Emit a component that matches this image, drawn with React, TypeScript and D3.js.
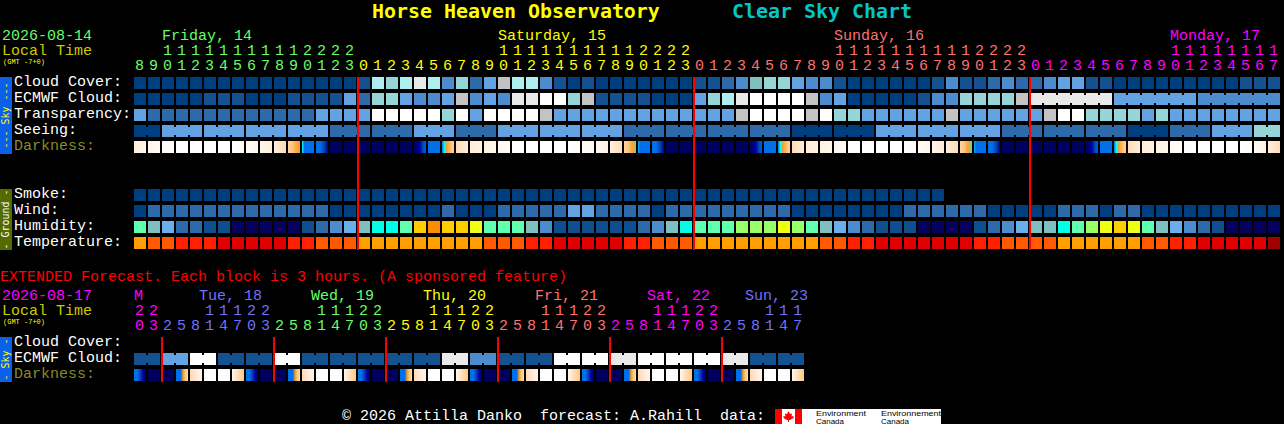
import React, { useRef, useEffect } from "react";
import * as d3 from "d3";

// hours shown above each column
const hours = [
	8, 9, 10, 11, 12, 13, 14, 15, 16, 17, 18, 19, 20, 21, 22, 23,
	0, 1, 2, 3, 4, 5, 6, 7, 8, 9, 10, 11, 12, 13, 14, 15, 16, 17, 18, 19, 20, 21, 22, 23,
	0, 1, 2, 3, 4, 5, 6, 7, 8, 9, 10, 11, 12, 13, 14, 15, 16, 17, 18, 19, 20, 21, 22, 23,
	0, 1, 2, 3, 4, 5, 6, 7, 8, 9, 10, 11, 12, 13, 14, 15, 16, 17,
];
const extHours = [
	20, 23, 2, 5, 8, 11, 14, 17, 20, 23, 2, 5, 8, 11, 14, 17, 20, 23, 2, 5, 8, 11, 14, 17,
	20, 23, 2, 5, 8, 11, 14, 17, 20, 23, 2, 5, 8, 11, 14, 17, 20, 23, 2, 5, 8, 11, 14, 17,
];

const dayLabels = ["Friday, 14", "Saturday, 15", "Sunday, 16", "Monday, 17"];
const dayLabelCols = [2, 26, 50, 74];
const dayFirstCols = [0, 16, 40, 64];
const dayColors = ["#66ff66", "#ffff00", "#ff7070", "#ff00ff"];

const extDayLabels = ["M", "Tue, 18", "Wed, 19", "Thu, 20", "Fri, 21", "Sat, 22", "Sun, 23"];
const extDayLabelCols = [0, 4.64, 12.64, 20.64, 28.64, 36.64, 43.64];
const extDayFirstCols = [0, 2, 10, 18, 26, 34, 42];
const extDayColors = ["#ff00ff", "#7070ff", "#66ff66", "#ffff00", "#ff7070", "#ff00ff", "#7070ff"];

// sky rows, 0 = best (dark blue) .. 10 = worst (white)
const cloudCover = [
	0, 0, 0, 0, 0, 0, 0, 0, 0, 0, 0, 0, 0, 0, 0, 0, 1, 7, 6, 7,
	9, 7, 3, 6, 2, 4, 8, 7, 7, 3, 1, 0, 1, 0, 0, 0, 0, 0, 0, 0,
	1, 1, 2, 3, 5, 6, 6, 4, 3, 3, 1, 0, 0, 0, 0, 0, 0, 1, 3, 1,
	1, 2, 3, 2, 2, 3, 4, 4, 1, 1, 0, 0, 0, 0, 0, 0, 0, 0, 0, 1, 1, 1,
];
const ecmwfCloud = [
	0, 0, 0, 0, 0, 1, 1, 1, 0, 0, 0, 1, 1, 1, 1, 4, 2, 6, 6, 4,
	3, 3, 4, 8, 3, 4, 3, 9, 9, 10, 10, 6, 8, 1, 1, 1, 1, 0, 0, 0,
	4, 6, 7, 9, 10, 10, 10, 10, 8, 3, 4, 0, 0, 0, 0, 0, 1, 3, 3, 6,
	6, 6, 6, 8, 9, 9, 9, 9, 9, 9, 4, 4, 4, 4, 4, 4, 3, 3, 3, 3, 3, 3,
];
const ecmwfSpans = [
	1, 1, 1, 1, 1, 1, 1, 1, 1, 1, 1, 1, 1, 1, 1, 1, 1, 1, 1, 1, 1, 1, 1, 1, 1, 1, 1, 1, 1, 1, 1, 1,
	1, 1, 1, 1, 1, 1, 1, 1, 1, 1, 1, 1, 1, 1, 1, 1, 1, 1, 1, 1, 1, 1, 1, 1, 1, 1, 1, 1, 1, 1, 1, 1,
	6, 6, 6,
];
const transparency = [
	4, 2, 2, 2, 2, 2, 2, 2, 2, 2, 2, 2, 2, 4, 4, 4, 4, 10, 10, 10,
	10, 10, 6, 10, 4, 10, 10, 10, 10, 8, 4, 4, 4, 4, 4, 4, 4, 4, 4, 4,
	4, 4, 4, 8, 10, 10, 10, 10, 8, 10, 6, 6, 4, 4, 4, 4, 4, 4, 8, 4,
	4, 4, 4, 4, 4, 8, 10, 10, 6, 6, 6, 6, 4, 6, 4, 4, 4, 4, 4, 4, 4, 4,
];
const seeing = [
	0, 0, 4, 4, 4, 4, 4, 4, 4, 4, 4, 4, 4, 4, 2, 2, 2, 2, 2, 2,
	4, 4, 4, 2, 2, 2, 4, 4, 4, 4, 4, 4, 4, 4, 4, 2, 2, 2, 2, 2,
	2, 2, 2, 2, 2, 2, 2, 0, 0, 0, 0, 0, 0, 4, 4, 4, 4, 4, 4, 4,
	4, 4, 2, 2, 2, 2, 2, 2, 2, 2, 2, 0, 0, 0, 2, 2, 2, 4, 4, 4, 6, 6,
];
const seeingSpans = [2, 3, 3, 3, 3, 3, 3, 3, 3, 3, 3, 3, 3, 3, 3, 3, 3, 3, 3, 3, 3, 3, 3, 3, 3, 3, 3, 2];

// darkness samples, left to right inside each block, 0 = daylight .. 10 = full night
const darkness = [
	[2, 1], [1.2, 0.6], [0.6, 0.1], [0], [0], [0], [0], [0, 0.5], [0.5, 1], [1, 1.8], [2, 3],
	[3.4, 4, 4.6, 5], [6, 7, 7, 7, 7, 7], [7, 7, 8, 9.5], [10], [10], [10], [10], [10], [10],
	[10, 9.5, 9, 8, 7.5], [7], [7, 6, 5, 4.5, 4, 3.5], [3, 2], [2, 1.4], [1.4, 1], [1, 0.3],
	[0], [0], [0], [0], [0, 0.3], [0.3, 0.7], [0.8, 1.4], [1.8, 3],
	[3.4, 4, 4.8, 5.4], [6.6, 7, 7, 7, 7, 7], [7, 7, 8, 9.5], [10], [10], [10], [10], [10], [10],
	[10, 9.5, 9, 8, 7.5], [7], [7, 6, 5, 4.5, 4, 3.5], [3, 2], [2, 1.4], [1.4, 1], [1, 0.3],
	[0], [0], [0], [0], [0, 0.3], [0.5, 1], [1, 2], [2, 3],
	[3.4, 4, 4.8, 5.6], [6.6, 7, 7, 7, 7, 7], [7, 7, 8, 9.5], [10], [10], [10], [10], [10], [10],
	[10, 9.5, 9, 8, 7.5], [7], [7, 6, 5, 4.5, 4, 3.5], [3, 2], [2, 1.4], [1.4, 1], [0.8, 0.3],
	[0.3, 0], [0], [0], [0], [0, 0.3], [0.6, 1.4], [1.8, 3],
];

// ground rows
const smoke = [
	0, 0, 0, 0, 0, 0, 0, 0, 0, 0, 0, 0, 0, 0, 0, 0, 0, 0, 0, 0, 0, 0, 0, 0, 0, 0, 0, 0, 0,
	0, 0, 0, 0, 0, 0, 0, 0, 0, 0, 0, 0, 0, 0, 0, 0, 0, 0, 0, 0, 0, 0, 0, 0, 0, 0, 0, 0, 0,
];
const wind = [
	0, 2, 2, 2, 2, 2, 2, 2, 2, 2, 2, 2, 2, 2, 0, 0, 0, 0, 0, 0,
	0, 0, 2, 0, 0, 0, 2, 2, 2, 2, 2, 4, 4, 2, 2, 2, 2, 0, 2, 2,
	2, 2, 2, 2, 2, 2, 2, 0, 0, 0, 0, 0, 0, 0, 0, 2, 2, 2, 2, 2,
	2, 0, 0, 0, 0, 0, 2, 2, 2, 0, 2, 2, 0, 0, 0, 0, 0, 0, 0, 0, 0, 0,
];
const humidity = [
	7, 5, 4, 2, 2, 1, 1, 0, 0, 0, 0, 0, 1, 2, 3, 4, 5, 6, 6, 7,
	10, 11, 10, 10, 9, 7, 7, 7, 5, 3, 1, 1, 1, 1, 1, 1, 2, 3, 5, 6,
	7, 7, 7, 8, 8, 8, 9, 8, 7, 5, 4, 3, 2, 1, 1, 1, 0, 0, 0, 0,
	1, 2, 3, 4, 5, 5, 6, 7, 8, 9, 10, 9, 7, 5, 4, 3, 2, 1, 0, 0, 0, 0,
];
const temperature = [
	4, 3, 3, 2, 2, 2, 1, 1, 1, 1, 1, 2, 2, 3, 3, 3, 4, 4, 4, 4,
	4, 4, 4, 4, 4, 3, 3, 3, 2, 2, 1, 1, 1, 1, 1, 2, 2, 3, 3, 3,
	4, 4, 4, 4, 4, 4, 4, 4, 4, 3, 3, 2, 2, 1, 1, 1, 1, 1, 1, 1,
	2, 2, 3, 3, 3, 3, 4, 4, 4, 4, 4, 4, 3, 3, 2, 2, 1, 1, 1, 1, 1, 0,
];

// extended forecast, 3-hour blocks
const extCloud = [
	1, 1, 4, 4, 10, 10, 1, 1, 1, 1, 10, 10, 1, 1, 1, 1, 1, 1, 1, 1, 1, 1, 9, 9,
	3, 3, 1, 1, 1, 1, 10, 10, 10, 10, 9, 9, 10, 10, 10, 10, 10, 10, 9, 9, 1, 1, 1, 1,
];
const extSpans = [2, 2, 2, 2, 2, 2, 2, 2, 2, 2, 2, 2, 2, 2, 2, 2, 2, 2, 2, 2, 2, 2, 2, 2];
const extDarkness = [
	[7, 7, 8, 9, 10], [10], [10], [7, 7, 7, 5, 4, 3], [3, 1], [0], [0, 0.3], [1, 4],
	[7, 7, 8, 9, 10], [10], [10], [7, 7, 7, 5, 4, 3], [3, 1], [0], [0, 0.3], [1, 4],
	[7, 7, 8, 9, 10], [10], [10], [7, 7, 7, 5, 4, 3], [3, 1], [0], [0, 0.3], [1, 4],
	[7, 7, 8, 9, 10], [10], [10], [7, 7, 7, 5, 4, 3], [3, 1], [0], [0, 0.3], [1, 4],
	[7, 7, 8, 9, 10], [10], [10], [7, 7, 7, 5, 4, 3], [3, 1], [0], [0, 0.3], [1, 4],
	[7, 7, 8, 9, 10], [10], [10], [7, 7, 7, 5, 4, 3], [3, 1], [0], [0, 0.3], [1, 4],
];
const extMidnights = [2, 10, 18, 26, 34, 42];
const mainMidnights = [16, 40, 64];

const skyColor = d3
	.scaleOrdinal<number, string>()
	.domain([0, 1, 2, 3, 4, 5, 6, 7, 8, 9, 10])
	.range(["#003f7f", "#135191", "#2d6aa9", "#4c8cce", "#63a2e3", "#7fbfbf", "#95d5d5", "#aeeeee", "#c3c3c3", "#e9e9e9", "#ffffff"]);
const humidityColor = d3
	.scaleOrdinal<number, string>()
	.domain([0, 1, 2, 3, 4, 5, 6, 7, 8, 9, 10, 11])
	.range(["#08005e", "#0f4f90", "#2d6aa9", "#4c8cce", "#6aaeec", "#7fbfbf", "#00ffe6", "#5fffb0", "#99ff66", "#eeff11", "#ffcc00", "#ff8c00"]);
const tempColor = d3
	.scaleOrdinal<number, string>()
	.domain([0, 1, 2, 3, 4])
	.range(["#a00000", "#e00000", "#ff2000", "#ff5a00", "#ffa000"]);
const darkColor = d3
	.scaleLinear<string>()
	.domain([0, 1, 2, 3, 4, 5, 6, 7, 8, 9, 10])
	.range(["#ffffff", "#fff6ec", "#ffedda", "#ffdcb4", "#ffc880", "#ff9a20", "#00ffff", "#0070e8", "#0048c0", "#0000a0", "#000060"]);

const CELL = 12;
const MONO = "'Liberation Mono', monospace";
const TITLE = "'DejaVu Sans Mono', monospace";

const App = () => {
	const svgRef = useRef<SVGSVGElement | null>(null);

	useEffect(() => {
		if (!svgRef.current) return;
		const svg = d3.select(svgRef.current);
		svg.selectAll("*").remove();
		document.body.style.margin = "0";
		document.body.style.background = "#000";

		const xCol = d3.scaleLinear().domain([0, 1]).range([134, 148]);
		const defs = svg.append("defs");

		svg.append("rect").attr("width", 1284).attr("height", 424).attr("fill", "#000");

		const text = (x: number, y: number, str: string, fill: string, size = 15) =>
			svg
				.append("text")
				.attr("x", x)
				.attr("y", y)
				.attr("fill", fill)
				.attr("font-family", MONO)
				.attr("font-size", size)
				.style("white-space", "pre")
				.text(str);

		const title = (x: number, str: string, fill: string) =>
			svg
				.append("text")
				.attr("x", x)
				.attr("y", 18)
				.attr("fill", fill)
				.attr("font-family", TITLE)
				.attr("font-size", 19.93)
				.attr("font-weight", "bold")
				.text(str);

		const blocks = (y: number, values: number[], color: (v: number) => string, spans?: number[]) => {
			const g = svg.append("g").attr("shape-rendering", "crispEdges");
			g.selectAll("rect.cell")
				.data(values)
				.join("rect")
				.attr("class", "cell")
				.attr("x", (_, i) => xCol(i))
				.attr("y", y)
				.attr("width", CELL)
				.attr("height", CELL)
				.attr("fill", (d) => color(d));
			if (!spans) return;
			// blocks of one forecast step are joined across the gap
			const joins: number[] = [];
			let start = 0;
			spans.forEach((n) => {
				d3.range(start, start + n - 1).forEach((i) => joins.push(i));
				start += n;
			});
			g.selectAll("rect.join")
				.data(joins)
				.join("rect")
				.attr("class", "join")
				.attr("x", (i) => xCol(i) + CELL)
				.attr("y", y + 2)
				.attr("width", xCol(1) - xCol(0) - CELL)
				.attr("height", CELL - 4)
				.attr("fill", (i) => color(values[i]));
		};

		const darkBlocks = (y: number, values: number[][], id: string) => {
			values.forEach((samples, i) => {
				const grad = defs.append("linearGradient").attr("id", `${id}${i}`);
				samples.forEach((s, k) => {
					grad.append("stop")
						.attr("offset", samples.length > 1 ? k / (samples.length - 1) : 0)
						.attr("stop-color", darkColor(s));
				});
			});
			svg.append("g")
				.selectAll("rect")
				.data(values)
				.join("rect")
				.attr("x", (_, i) => xCol(i))
				.attr("y", y)
				.attr("width", CELL)
				.attr("height", CELL)
				.attr("fill", (_, i) => `url(#${id}${i})`);
		};

		const hourRows = (hrs: number[], firsts: number[], colors: string[], tensY: number, unitsY: number) => {
			const colorOf = (i: number) => colors[d3.bisectRight(firsts, i) - 1];
			hrs.forEach((h, i) => {
				if (h >= 10) text(xCol(i) + 5.5, tensY, String(Math.floor(h / 10)), colorOf(i)).attr("text-anchor", "middle");
				text(xCol(i) + 5.5, unitsY, String(h % 10), colorOf(i)).attr("text-anchor", "middle");
			});
		};

		const redLines = (cols: number[], y0: number, y1: number) => {
			svg.append("g")
				.attr("shape-rendering", "crispEdges")
				.selectAll("rect")
				.data(cols)
				.join("rect")
				.attr("x", (c) => xCol(c) - 1)
				.attr("y", y0)
				.attr("width", 2)
				.attr("height", y1 - y0)
				.attr("fill", "#ff0000");
		};

		const sideBar = (y0: number, y1: number, fill: string, label: string, labelFill: string) => {
			svg.append("rect")
				.attr("x", 0)
				.attr("y", y0)
				.attr("width", 12)
				.attr("height", y1 - y0)
				.attr("fill", fill)
				.attr("shape-rendering", "crispEdges");
			svg.append("text")
				.attr("transform", `translate(9,${(y0 + y1) / 2}) rotate(-90)`)
				.attr("text-anchor", "middle")
				.attr("fill", labelFill)
				.attr("font-family", TITLE)
				.attr("font-size", 9.97)
				.style("white-space", "pre")
				.text(label);
		};

		title(372, "Horse Heaven Observatory", "#ffff00");
		title(732, "Clear Sky Chart", "#00c8c8");

		// main chart header
		text(2, 40, "2026-08-14", "#66ff66");
		text(2, 55, "Local Time", "#cccc00");
		text(3, 64, "(GMT -7+0)", "#ffff00", 7);
		dayLabels.forEach((d, i) => text(xCol(dayLabelCols[i]), 40, d, dayColors[i]));
		hourRows(hours, dayFirstCols, dayColors, 55, 70);

		sideBar(77, 154, "#0a60e8", "--- Sky ---", "#ffff00");
		sideBar(189, 250, "#556b00", "- Ground -", "#ffffff");

		text(14, 86, "Cloud Cover:", "#ffffff");
		text(14, 102, "ECMWF Cloud:", "#ffffff");
		text(14, 118, "Transparency:", "#ffffff");
		text(14, 134, "Seeing:", "#ffffff");
		text(14, 150, "Darkness:", "#8a8a28");
		text(14, 198, "Smoke:", "#ffffff");
		text(14, 214, "Wind:", "#ffffff");
		text(14, 230, "Humidity:", "#ffffff");
		text(14, 246, "Temperature:", "#ffffff");

		blocks(77, cloudCover, skyColor);
		blocks(93, ecmwfCloud, skyColor, ecmwfSpans);
		blocks(109, transparency, skyColor);
		blocks(125, seeing, skyColor, seeingSpans);
		darkBlocks(141, darkness, "dark");
		blocks(189, smoke, skyColor);
		blocks(205, wind, skyColor);
		blocks(221, humidity, humidityColor);
		blocks(237, temperature, tempColor);
		redLines(mainMidnights, 77, 250);

		// extended forecast
		text(0, 281, "EXTENDED Forecast. Each block is 3 hours. (A sponsored feature)", "#ff0000");
		text(2, 300, "2026-08-17", "#ff00ff");
		text(2, 315, "Local Time", "#cccc00");
		text(3, 324, "(GMT -7+0)", "#ffff00", 7);
		extDayLabels.forEach((d, i) => text(xCol(extDayLabelCols[i]), 300, d, extDayColors[i]));
		hourRows(extHours, extDayFirstCols, extDayColors, 315, 330);

		sideBar(337, 382, "#0a60e8", "- Sky -", "#ffff00");
		text(14, 346, "Cloud Cover:", "#ffffff");
		text(14, 362, "ECMWF Cloud:", "#ffffff");
		text(14, 378, "Darkness:", "#8a8a28");
		blocks(353, extCloud, skyColor, extSpans);
		darkBlocks(369, extDarkness, "ext");
		redLines(extMidnights, 337, 382);

		// footer with data credit
		text(342, 420, "© 2026 Attilla Danko  forecast: A.Rahill  data:", "#ffffff");
		const logo = svg.append("g").attr("transform", "translate(775,409)");
		logo.append("rect").attr("width", 166).attr("height", 15).attr("fill", "#ffffff");
		logo.append("rect").attr("width", 7).attr("height", 15).attr("fill", "#ff0000");
		logo.append("rect").attr("x", 20).attr("width", 7).attr("height", 15).attr("fill", "#ff0000");
		logo.append("path")
			.attr("d", "M13.5 2 L15 5 L17 4.5 L16.5 7.5 L18.5 7 L18.5 9 L15 11 L14 11 L14 13 L13 13 L13 11 L12 11 L8.5 9 L8.5 7 L10.5 7.5 L10 4.5 L12 5 Z")
			.attr("fill", "#ff0000");
		[["Environment", 41, 50], ["Environnement", 106, 60]].forEach(([str, x, w]) => {
			logo.append("text").attr("x", x as number).attr("y", 6.5)
				.attr("font-family", "'Liberation Sans', sans-serif").attr("font-size", 7).attr("fill", "#000")
				.attr("textLength", w as number).attr("lengthAdjust", "spacingAndGlyphs").text(str as string);
			logo.append("text").attr("x", x as number).attr("y", 14.5)
				.attr("font-family", "'Liberation Sans', sans-serif").attr("font-size", 7).attr("fill", "#000")
				.attr("textLength", 28).attr("lengthAdjust", "spacingAndGlyphs").text("Canada");
		});
	}, []);

	return <svg ref={svgRef} width={1284} height={424} style={{ position: "absolute", top: 0, left: 0, display: "block" }} />;
};

export default App;
